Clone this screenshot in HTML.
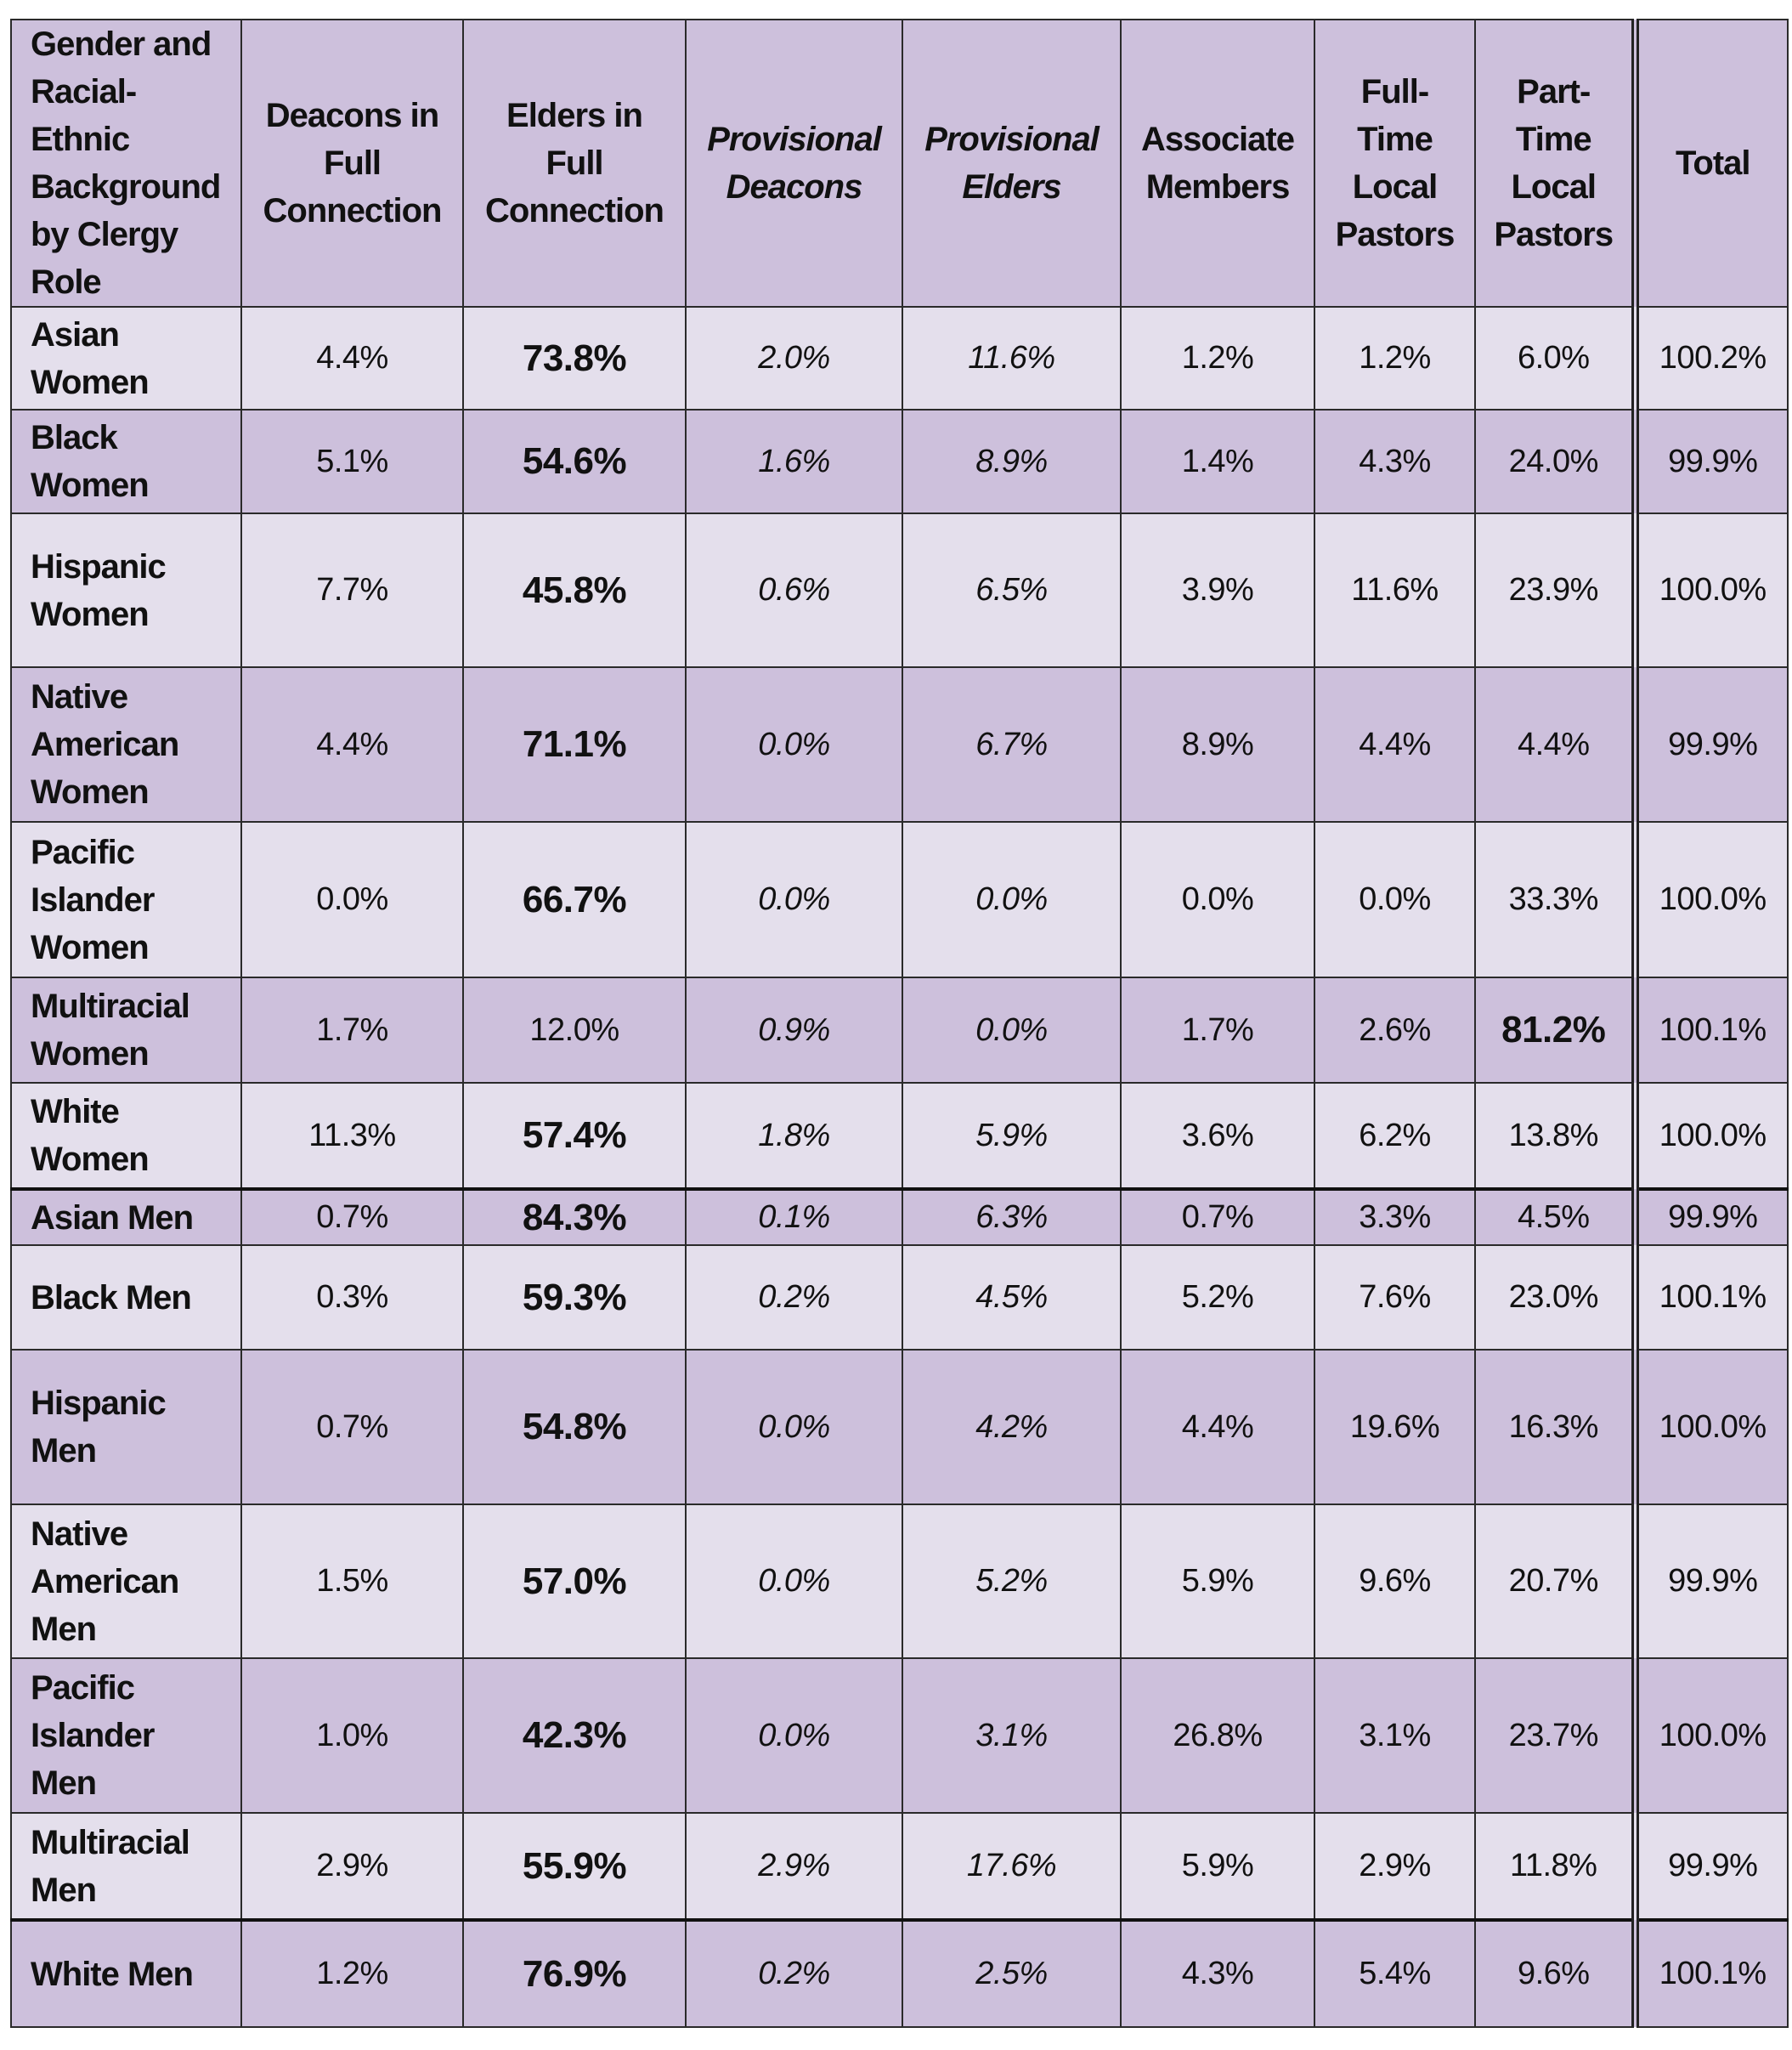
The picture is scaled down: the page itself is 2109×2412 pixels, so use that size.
<!DOCTYPE html>
<html><head><meta charset="utf-8"><style>
html,body{margin:0;padding:0;background:#fff;width:2109px;height:2412px;overflow:hidden}
table{position:absolute;left:12px;top:22px;border-collapse:collapse;table-layout:fixed;font-family:"Liberation Sans",sans-serif;color:#111}
td{border:2px solid #2a2a2a;text-align:center;vertical-align:middle;font-size:38px;padding:0 2px;letter-spacing:-0.5px;white-space:nowrap}
td:first-child{text-align:left;padding-left:22px;font-weight:bold;line-height:56px;letter-spacing:-1px;font-size:40px}
tr.h td{font-weight:bold;line-height:56px;letter-spacing:-1px;font-size:40px}
.d td{background:#cdc0dc}.l td{background:#e4dfec}
td:nth-child(8){border-right:9px double #222}
td:nth-child(4),td:nth-child(5){font-style:italic}
b{font-size:44px}
tr.t td{border-bottom:4px solid #111}
</style></head><body>
<table>
<colgroup><col style="width:271px"><col style="width:261px"><col style="width:262px"><col style="width:255px"><col style="width:257px"><col style="width:228px"><col style="width:189px"><col style="width:188px"><col style="width:180px"></colgroup>
<tr class="h d" style="height:338px"><td>Gender and<br>Racial-<br>Ethnic<br>Background<br>by Clergy<br>Role</td><td>Deacons in<br>Full<br>Connection</td><td>Elders in<br>Full<br>Connection</td><td>Provisional<br>Deacons</td><td>Provisional<br>Elders</td><td>Associate<br>Members</td><td>Full-<br>Time<br>Local<br>Pastors</td><td>Part-<br>Time<br>Local<br>Pastors</td><td>Total</td></tr>
<tr class="l" style="height:121px"><td>Asian<br>Women</td><td>4.4%</td><td><b>73.8%</b></td><td>2.0%</td><td>11.6%</td><td>1.2%</td><td>1.2%</td><td>6.0%</td><td>100.2%</td></tr>
<tr class="d" style="height:122px"><td>Black<br>Women</td><td>5.1%</td><td><b>54.6%</b></td><td>1.6%</td><td>8.9%</td><td>1.4%</td><td>4.3%</td><td>24.0%</td><td>99.9%</td></tr>
<tr class="l" style="height:181px"><td>Hispanic<br>Women</td><td>7.7%</td><td><b>45.8%</b></td><td>0.6%</td><td>6.5%</td><td>3.9%</td><td>11.6%</td><td>23.9%</td><td>100.0%</td></tr>
<tr class="d" style="height:182px"><td>Native<br>American<br>Women</td><td>4.4%</td><td><b>71.1%</b></td><td>0.0%</td><td>6.7%</td><td>8.9%</td><td>4.4%</td><td>4.4%</td><td>99.9%</td></tr>
<tr class="l" style="height:183px"><td>Pacific<br>Islander<br>Women</td><td>0.0%</td><td><b>66.7%</b></td><td>0.0%</td><td>0.0%</td><td>0.0%</td><td>0.0%</td><td>33.3%</td><td>100.0%</td></tr>
<tr class="d" style="height:124px"><td>Multiracial<br>Women</td><td>1.7%</td><td>12.0%</td><td>0.9%</td><td>0.0%</td><td>1.7%</td><td>2.6%</td><td><b>81.2%</b></td><td>100.1%</td></tr>
<tr class="l t" style="height:125px"><td>White<br>Women</td><td>11.3%</td><td><b>57.4%</b></td><td>1.8%</td><td>5.9%</td><td>3.6%</td><td>6.2%</td><td>13.8%</td><td>100.0%</td></tr>
<tr class="d" style="height:66px"><td>Asian Men</td><td>0.7%</td><td><b>84.3%</b></td><td>0.1%</td><td>6.3%</td><td>0.7%</td><td>3.3%</td><td>4.5%</td><td>99.9%</td></tr>
<tr class="l" style="height:123px"><td>Black Men</td><td>0.3%</td><td><b>59.3%</b></td><td>0.2%</td><td>4.5%</td><td>5.2%</td><td>7.6%</td><td>23.0%</td><td>100.1%</td></tr>
<tr class="d" style="height:182px"><td>Hispanic<br>Men</td><td>0.7%</td><td><b>54.8%</b></td><td>0.0%</td><td>4.2%</td><td>4.4%</td><td>19.6%</td><td>16.3%</td><td>100.0%</td></tr>
<tr class="l" style="height:181px"><td>Native<br>American<br>Men</td><td>1.5%</td><td><b>57.0%</b></td><td>0.0%</td><td>5.2%</td><td>5.9%</td><td>9.6%</td><td>20.7%</td><td>99.9%</td></tr>
<tr class="d" style="height:182px"><td>Pacific<br>Islander<br>Men</td><td>1.0%</td><td><b>42.3%</b></td><td>0.0%</td><td>3.1%</td><td>26.8%</td><td>3.1%</td><td>23.7%</td><td>100.0%</td></tr>
<tr class="l t" style="height:126px"><td>Multiracial<br>Men</td><td>2.9%</td><td><b>55.9%</b></td><td>2.9%</td><td>17.6%</td><td>5.9%</td><td>2.9%</td><td>11.8%</td><td>99.9%</td></tr>
<tr class="d" style="height:126px"><td>White Men</td><td>1.2%</td><td><b>76.9%</b></td><td>0.2%</td><td>2.5%</td><td>4.3%</td><td>5.4%</td><td>9.6%</td><td>100.1%</td></tr>
</table>
</body></html>
